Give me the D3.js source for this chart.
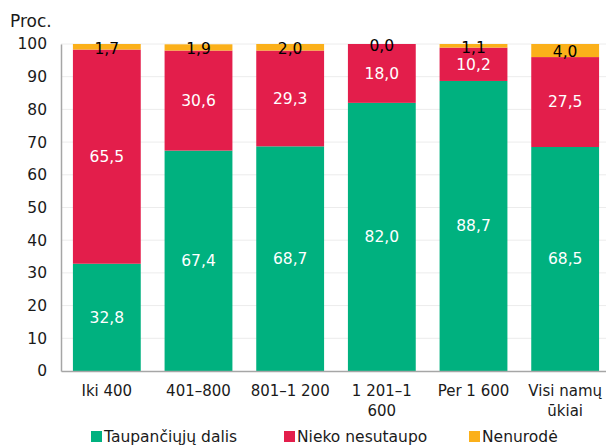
<!DOCTYPE html>
<html><head><meta charset="utf-8">
<script src="https://cdn.jsdelivr.net/npm/d3@7"></script>
<style>body{margin:0;background:#fff}svg{display:block}text{font-family:"DejaVu Sans",Verdana,sans-serif}</style>
</head><body>
<svg id="c" width="606" height="447"></svg>
<script>
const categories = [["Iki 400"],["401–800"],["801–1 200"],["1 201–1","600"],["Per 1 600"],["Visi namų","ūkiai"]];
const saving = [32.8, 67.4, 68.7, 82.0, 88.7, 68.5];
const nothing = [65.5, 30.6, 29.3, 18.0, 10.2, 27.5];
const unknown = [1.7, 1.9, 2.0, 0.0, 1.1, 4.0];
const seriesNames = ["Taupančiųjų dalis","Nieko nesutaupo","Nenurodė"];
const colors = ["#00B17F","#E31E4B","#FBB01A"];
const yTicks = [0,10,20,30,40,50,60,70,80,90,100];

const svg = d3.select("#c");
const x = d3.scaleBand().domain(d3.range(categories.length)).range([61, 611]).paddingInner(0.26).paddingOuter(0.13);
const y = d3.scaleLinear().domain([0,100]).range([371, 44]);

// gridlines
svg.append("g").selectAll("line").data(yTicks.slice(1)).join("line")
  .attr("x1",61).attr("x2",606).attr("y1",d=>y(d)).attr("y2",d=>y(d))
  .attr("stroke","#ececec").attr("stroke-width",1);

const data = categories.map((c,i)=>({i, vals:[saving[i],nothing[i],unknown[i]]}));
const fmt = v => v.toFixed(1).replace(".",",");

data.forEach(d=>{
  let acc=0;
  d.vals.forEach((v,k)=>{
    const y0=acc, y1=acc+v; acc=y1;
    if(v>0) svg.append("rect").attr("x",x(d.i)).attr("width",x.bandwidth())
      .attr("y",y(y1)).attr("height",y(y0)-y(y1)).attr("fill",colors[k]);
  });
});
data.forEach(d=>{
  let acc=0;
  d.vals.forEach((v,k)=>{
    const y0=acc, y1=acc+v; acc=y1;
    const cy = k===2 ? (y(y0)+y(Math.min(y1,100)))/2 + 1.5 : (y(y0)+y(y1))/2;
    svg.append("text").attr("x",x(d.i)+x.bandwidth()/2).attr("y",cy).attr("dy","0.35em")
      .attr("text-anchor","middle").attr("font-size",15.5)
      .attr("fill",k===2?"#000":"#fff").text(fmt(v));
  });
});

// y axis
const ya = svg.append("g").attr("transform","translate(61,0)")
  .call(d3.axisLeft(y).tickValues(yTicks).tickSize(0).tickPadding(14));
ya.select(".domain").attr("stroke","#a6a6a6").attr("stroke-width",1.5);
ya.selectAll("text").attr("font-size",15.5).attr("fill","#1a1a1a").style("font-family","DejaVu Sans");
// x axis
const xa = svg.append("g").attr("transform","translate(0,371)")
  .call(d3.axisBottom(x).tickSize(0).tickFormat(""));
xa.select(".domain").attr("stroke","#a6a6a6").attr("stroke-width",1.5);
categories.forEach((c,i)=>{
  const t = svg.append("text").attr("x",x(i)+x.bandwidth()/2).attr("y",396)
    .attr("text-anchor","middle").attr("font-size",15).attr("fill","#1a1a1a");
  c.forEach((line,j)=>t.append("tspan").attr("x",x(i)+x.bandwidth()/2).attr("dy",j?20:0).text(line));
});

svg.append("text").attr("x",10).attr("y",27).attr("font-size",17).attr("fill","#1a1a1a").text("Proc.");

// legend
const legX = [91, 284, 469];
seriesNames.forEach((n,k)=>{
  svg.append("rect").attr("x",legX[k]).attr("y",431).attr("width",11).attr("height",11).attr("fill",colors[k]);
  svg.append("text").attr("x",legX[k]+13).attr("y",442).attr("font-size",15.5).attr("fill","#1a1a1a").text(n);
});
</script>
</body></html>
